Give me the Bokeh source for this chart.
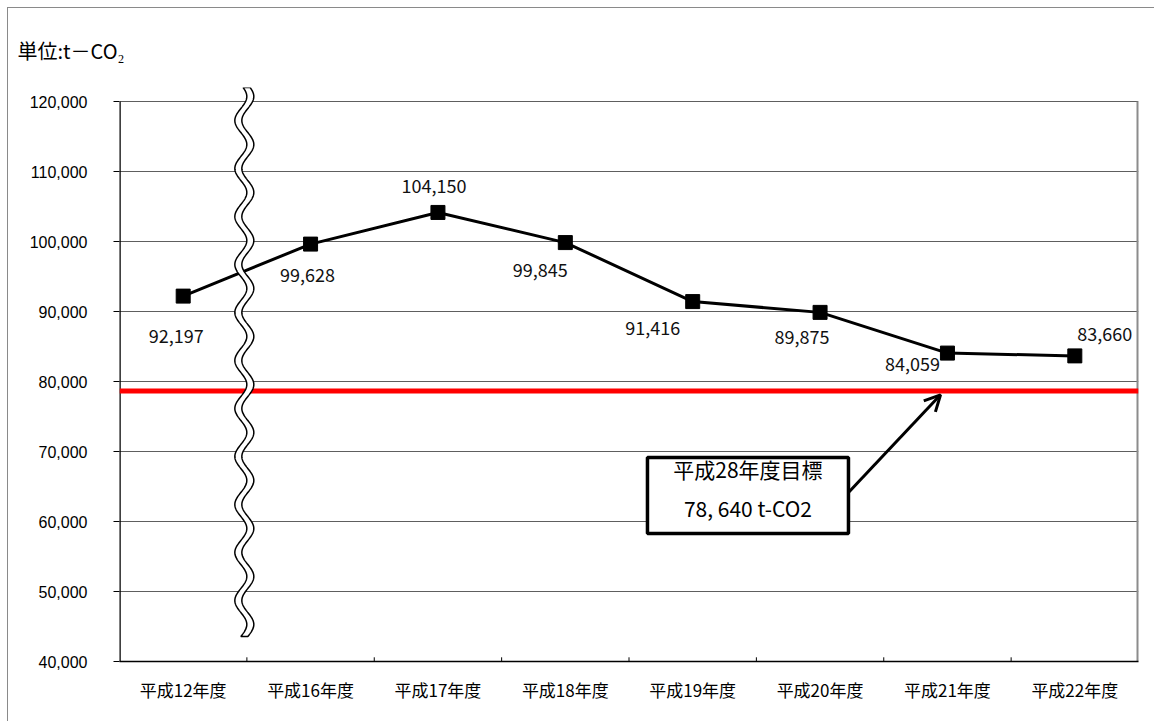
import numpy as np
from bokeh.plotting import figure
from bokeh.models import (ColumnDataSource, Range1d, FixedTicker, NumeralTickFormatter,
                          LabelSet, Arrow, OpenHead, Title)
from bokeh.core.properties import value
from bokeh.embed import file_html
from bokeh.resources import INLINE

# --- data -------------------------------------------------------------
years = ["平成12年度", "平成16年度", "平成17年度", "平成18年度",
         "平成19年度", "平成20年度", "平成21年度", "平成22年度"]
emissions = [92197, 99628, 104150, 99845, 91416, 89875, 84059, 83660]
target_value = 78640
target_lines = ["平成28年度目標", "78, 640 t-CO2"]
unit_label = "単位:t－CO₂"
y_ticks = [40000, 50000, 60000, 70000, 80000, 90000, 100000, 110000, 120000]

# --- styling / placement ------------------------------------------------
FONT = "Noto Sans CJK JP"
# per-label pixel offsets (dx right, dy down) of the value labels
label_dx = [-7, -3, -4, -25, -40, -18, -35, 30]
label_dy = [40, 31, -26, 27, 26, 25, 11, -22]

centers = [i + 0.5 for i in range(len(years))]

p = figure(width=1147, height=714,
           x_range=Range1d(0, len(years)), y_range=Range1d(40000, 122000),
           output_backend="svg", toolbar_location=None,
           min_border_left=111, min_border_right=17,
           min_border_top=79, min_border_bottom=61,
           background_fill_color="white", border_fill_color="white",
           outline_line_color=None,
           styles={"margin-left": "7px", "margin-top": "7px",
                   "border-left": "1px solid #8a8a8a",
                   "border-top": "1px solid #8a8a8a"})

# unit caption
p.add_layout(Title(text=unit_label, align="left", offset=-102, standoff=46,
                   text_font=FONT, text_font_size="20px", text_font_style="normal",
                   text_color="black"), "above")

# y axis
p.yaxis.ticker = FixedTicker(ticks=y_ticks)
p.yaxis.formatter = NumeralTickFormatter(format="0,0")
p.yaxis.major_tick_out = 6
p.yaxis.major_tick_in = 0
p.yaxis.minor_tick_line_color = None
p.yaxis.axis_line_color = None
p.yaxis.major_tick_line_color = "black"
p.yaxis.major_label_standoff = 26
p.yaxis.major_label_text_font = "Liberation Sans"
p.yaxis.major_label_text_font_size = "16px"
p.yaxis.major_label_text_color = "black"

# x axis: labels at category centres, tick marks drawn at the boundaries
p.xaxis.ticker = FixedTicker(ticks=centers)
p.xaxis.major_label_overrides = {c: y for c, y in zip(centers, years)}
p.xaxis.major_tick_line_color = None
p.xaxis.minor_tick_line_color = None
p.xaxis.axis_line_color = "black"
p.xaxis.axis_line_width = 1.5
p.xaxis.major_label_standoff = 9
p.xaxis.major_label_text_font = FONT
p.xaxis.major_label_text_font_size = "17px"
p.xaxis.major_label_text_color = "black"

p.xgrid.grid_line_color = None
p.ygrid.ticker = FixedTicker(ticks=y_ticks)
p.ygrid.grid_line_color = "#5e5e5e"
p.ygrid.grid_line_width = 1

# plot-area borders
lo, hi = y_ticks[0], y_ticks[-1]
p.segment(x0=[0], y0=[lo], x1=[0], y1=[hi], line_color="black", line_width=2.5)
p.segment(x0=[len(years)], y0=[lo], x1=[len(years)], y1=[hi],
          line_color="#8c8c8c", line_width=4)
bounds = list(range(1, len(years)))
p.segment(x0=bounds, y0=[lo] * len(bounds), x1=bounds, y1=[lo + 600] * len(bounds),
          line_color="black", line_width=1)

# target line
p.line(x=[0, len(years)], y=[target_value, target_value], line_color="#ff0000", line_width=5)

# emissions series
src = ColumnDataSource(dict(
    x=centers, y=emissions, txt=[f"{v:,}" for v in emissions],
    xo=label_dx, yo=[-d for d in label_dy]))
p.line("x", "y", source=src, line_color="black", line_width=3)
p.scatter("x", "y", source=src, marker="square", size=14,
          fill_color="black", line_color="black")
p.add_layout(LabelSet(x="x", y="y", text="txt", source=src,
                      x_offset="xo", y_offset="yo",
                      text_align="center", text_baseline="middle",
                      text_font=value(FONT), text_font_size="18px",
                      text_color="#111111"))

# axis-break mark (wavy white band)
wy = np.linspace(43571, 122000, 700)
wc = 0.98 + 0.047 * np.sin(2 * np.pi * (wy - 43571) / 6857)
half = 0.0275
p.patch(np.concatenate([wc - half, (wc + half)[::-1]]),
        np.concatenate([wy, wy[::-1]]),
        fill_color="white", line_color="black", line_width=1.5)

# target call-out
bx0, bx1, by0, by1 = 4.145, 5.723, 58286, 69143
p.quad(left=[bx0], right=[bx1], bottom=[by0], top=[by1],
       fill_color="white", line_color="black", line_width=3.5)
p.text(x=[(bx0 + bx1) / 2] * 2, y=[67500, 62000], text=target_lines,
       text_font=value(FONT), text_font_size="21px",
       text_align="center", text_baseline="middle", text_color="black")
p.add_layout(Arrow(end=OpenHead(size=16, line_width=3, line_color="black"),
                   x_start=bx1, y_start=64143, x_end=6.446, y_end=78100,
                   line_color="black", line_width=3))

open("out.html", "w").write(file_html(p, INLINE))
